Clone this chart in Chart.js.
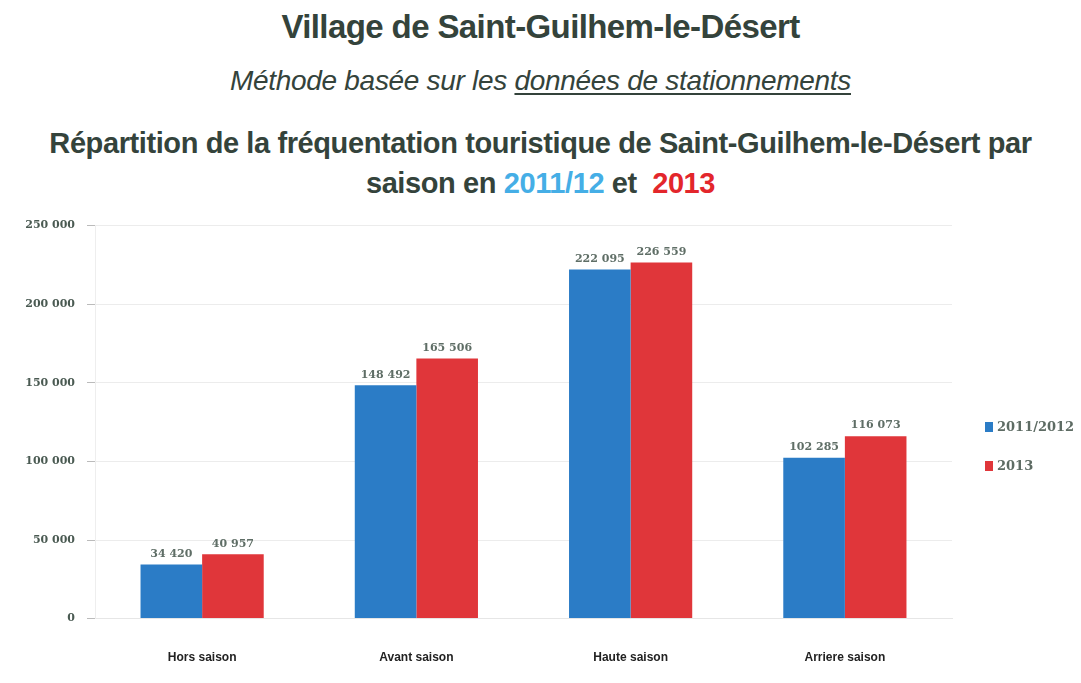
<!DOCTYPE html>
<html><head><meta charset="utf-8">
<script src="https://cdn.jsdelivr.net/npm/chart.js@4"></script>
<style>
html,body{margin:0;padding:0;background:#fff;width:1081px;height:683px;overflow:hidden;font-family:"Liberation Sans",Arial,sans-serif;}
.t{position:absolute;left:0;width:1081px;text-align:center;color:#34433b;white-space:nowrap;}
#t1{top:8px;font-size:33px;font-weight:bold;letter-spacing:-0.6px;}
#t2{top:65px;font-size:28px;font-style:italic;letter-spacing:-0.3px;}
#t2 u{text-decoration-thickness:2px;text-underline-offset:3px;}
#t3{top:127px;font-size:29px;font-weight:bold;letter-spacing:-0.4px;}
#t4{top:167px;font-size:29px;font-weight:bold;letter-spacing:-0.4px;}
#wrap{position:absolute;left:0;top:207px;width:1081px;height:482px;}
.lg{position:absolute;left:985px;font-family:"DejaVu Serif",serif;font-size:13px;color:#5d6b63;font-weight:bold;}
.lg span{display:inline-block;width:8px;height:10px;margin-right:4px;vertical-align:-1px;}
</style></head>
<body>
<div class="t" id="t1">Village de Saint-Guilhem-le-Désert</div>
<div class="t" id="t2">Méthode basée sur les <u>données de stationnements</u></div>
<div class="t" id="t3">Répartition de la fréquentation touristique de Saint-Guilhem-le-Désert par</div>
<div class="t" id="t4">saison en <span style="color:#45aee6">2011/12</span> et &nbsp;<span style="color:#e3262b">2013</span></div>
<div id="wrap"><canvas id="c"></canvas></div>
<div class="lg" style="top:419px"><span style="background:#2b7cc6"></span>2011/2012</div>
<div class="lg" style="top:458px"><span style="background:#e0363a"></span>2013</div>
<script>
const categories = ["Hors saison", "Avant saison", "Haute saison", "Arriere saison"];
const series2011 = [34420, 148492, 222095, 102285];
const series2013 = [40957, 165506, 226559, 116073];
const seriesNames = ["2011/2012", "2013"];
const yTicks = [0, 50000, 100000, 150000, 200000, 250000];

function fmt(v){ return String(v).replace(/\B(?=(\d{3})+(?!\d))/g, " "); }

const valueLabels = {
  id: 'valueLabels',
  afterDatasetsDraw(chart){
    const ctx = chart.ctx;
    ctx.save();
    ctx.font = 'bold 11px "DejaVu Serif", serif';
    ctx.fillStyle = '#5f6e66';
    ctx.textAlign = 'center';
    ctx.textBaseline = 'bottom';
    chart.data.datasets.forEach((ds, i) => {
      chart.getDatasetMeta(i).data.forEach((bar, j) => {
        ctx.fillText(fmt(ds.data[j]), bar.x, bar.y - 5);
      });
    });
    ctx.restore();
  }
};

new Chart(document.getElementById('c'), {
  type: 'bar',
  data: {
    labels: categories,
    datasets: [
      {label: seriesNames[0], data: series2011, backgroundColor: '#2b7cc6'},
      {label: seriesNames[1], data: series2013, backgroundColor: '#e0363a'}
    ]
  },
  options: {
    responsive: true,
    maintainAspectRatio: false,
    animation: false,
    layout: {padding: {top: 12, right: 129, bottom: 0, left: 0}},
    plugins: {legend: {display: false}, tooltip: {enabled: false}},
    datasets: {bar: {categoryPercentage: 0.575, barPercentage: 1}},
    scales: {
      x: {
        grid: {display: false},
        border: {color: '#e6e6e6'},
        ticks: {color: '#222', padding: 24, font: {family: '"Liberation Sans Narrow","Liberation Sans",sans-serif', size: 12, weight: 'bold'}}
      },
      y: {
        min: 0, max: 250000,
        afterBuildTicks(scale){ scale.ticks = yTicks.map(v => ({value: v})); },
        afterFit(scale){ scale.width = 95; },
        grid: {color: '#ececec', tickLength: 8, tickColor: '#bbb'},
        border: {color: '#eeeeee'},
        ticks: {color: '#4a5a52', padding: 12, font: {family: '"DejaVu Serif", serif', size: 11, weight: 'bold'}, callback: v => fmt(v)}
      }
    }
  },
  plugins: [valueLabels]
});
</script>
</body></html>
